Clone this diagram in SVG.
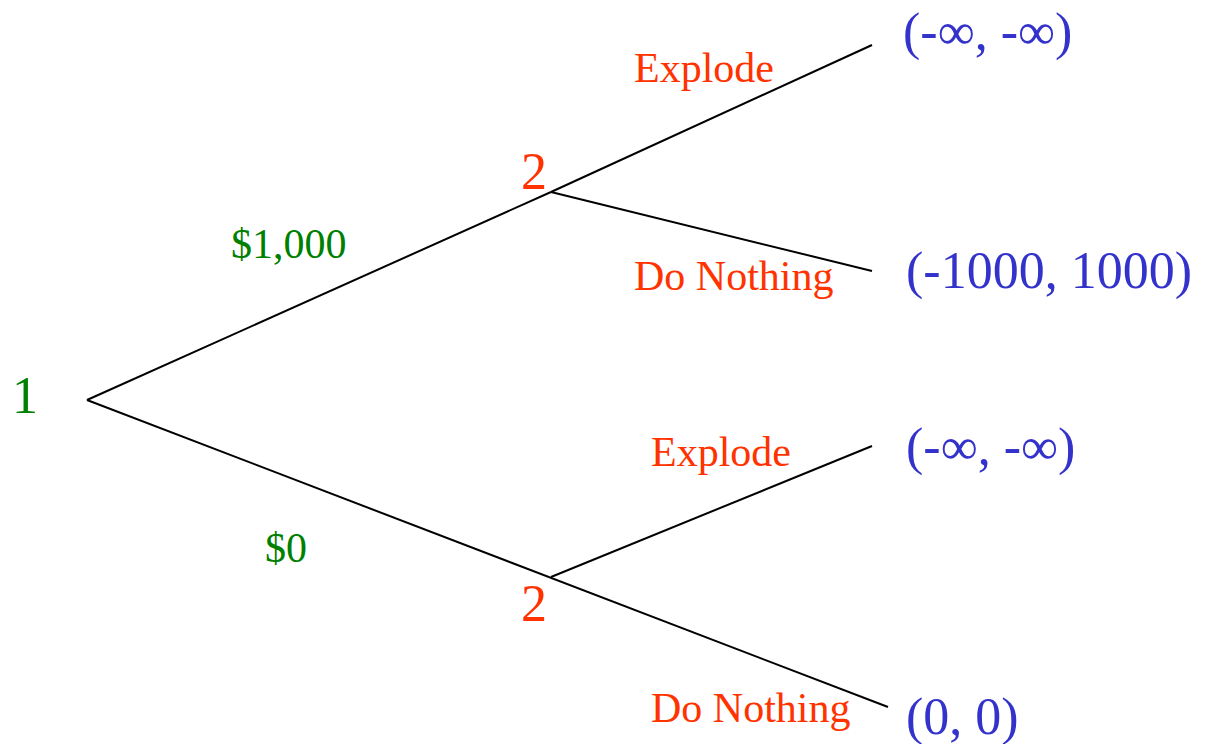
<svg xmlns="http://www.w3.org/2000/svg" width="1205" height="744" viewBox="0 0 1205 744">
<style>
text{font-family:"Liberation Serif","Times New Roman",serif}
.g{fill:#008000}
.o{fill:#ff3300}
.b{fill:#3333cc;font-size:52px}
.e{stroke:#000;stroke-width:2;fill:none}
</style>
<rect width="1205" height="744" fill="#fff"/>
<g id="connectors">
<line class="e" x1="87" y1="400" x2="551" y2="192"/>
<line class="e" x1="551" y1="192" x2="872" y2="45"/>
<line class="e" x1="551" y1="192" x2="872" y2="271"/>
<line class="e" x1="87" y1="400" x2="888" y2="707"/>
<line class="e" x1="551" y1="577" x2="872" y2="446"/>
</g>
<g id="node1"><text class="g" x="12" y="413" font-size="52">1</text></g>
<g id="label-1000"><text class="g" x="231" y="258" font-size="42">$1,000</text></g>
<g id="label-0"><text class="g" x="265" y="562" font-size="42">$0</text></g>
<g id="node2a"><text class="o" x="521" y="189" font-size="52">2</text></g>
<g id="node2b"><text class="o" x="521" y="621" font-size="52">2</text></g>
<g id="label-explode-a"><text class="o" x="634" y="82" font-size="42">Explode</text></g>
<g id="label-nothing-a"><text class="o" x="634" y="290" font-size="42">Do Nothing</text></g>
<g id="label-explode-b"><text class="o" x="651" y="466" font-size="42">Explode</text></g>
<g id="label-nothing-b"><text class="o" x="651" y="722" font-size="42">Do Nothing</text></g>
<g id="payoff1"><text class="b" x="903" y="49">(-∞, -∞)</text></g>
<g id="payoff2"><text class="b" x="906" y="288">(-1000, 1000)</text></g>
<g id="payoff3"><text class="b" x="906" y="464">(-∞, -∞)</text></g>
<g id="payoff4"><text class="b" x="906" y="734">(0, 0)</text></g>
</svg>
